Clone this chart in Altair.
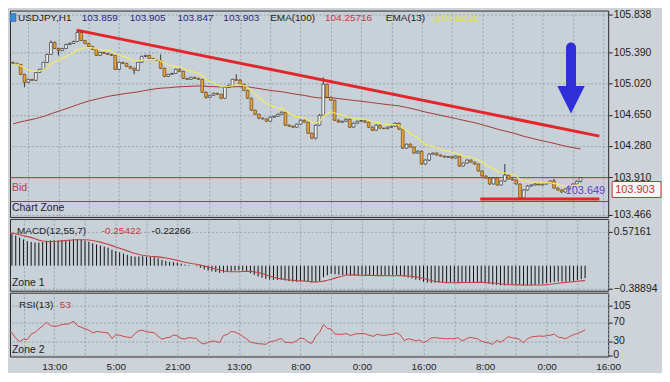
import altair as alt
import pandas as pd

# ---------------- data ----------------
first_open = 105.272
closes = [
    105.260, 105.248, 105.130, 105.035, 105.070, 105.059, 105.153, 105.189, 105.272, 105.366,
    105.508, 105.437, 105.414, 105.437, 105.485, 105.497, 105.520, 105.627, 105.532, 105.497,
    105.461, 105.426, 105.355, 105.390, 105.378, 105.366, 105.355, 105.189, 105.272, 105.260,
    105.224, 105.201, 105.177, 105.272, 105.343, 105.355, 105.319, 105.307, 105.295, 105.201,
    105.106, 105.130, 105.141, 105.189, 105.165, 105.082, 105.070, 105.094, 105.082, 105.070,
    104.917, 104.857, 104.881, 104.905, 104.893, 104.846, 104.976, 104.999, 105.070, 105.059,
    105.011, 104.940, 104.846, 104.704, 104.656, 104.609, 104.600, 104.573, 104.621, 104.633,
    104.656, 104.680, 104.526, 104.514, 104.502, 104.538, 104.585, 104.562, 104.431, 104.372,
    104.526, 104.644, 105.011, 104.857, 104.822, 104.585, 104.562, 104.573, 104.597, 104.502,
    104.550, 104.573, 104.580, 104.562, 104.502, 104.467, 104.526, 104.491, 104.485, 104.502,
    104.514, 104.550, 104.479, 104.254, 104.301, 104.266, 104.195, 104.218, 104.065, 104.112,
    104.183, 104.195, 104.171, 104.159, 104.147, 104.152, 104.136, 104.159, 104.041, 104.076,
    104.112, 104.088, 104.065, 103.982, 103.923, 103.899, 103.828, 103.899, 103.816, 103.863,
    103.934, 103.887, 103.875, 103.828, 103.662, 103.757, 103.804, 103.816, 103.828, 103.816,
    103.828, 103.840, 103.863, 103.780, 103.757, 103.733, 103.769, 103.804, 103.828, 103.859,
    103.903,
]
# wick lengths beyond the body, in thousandths of a yen
wick_up = [
    8, 6, 5, 6, 7, 5, 6, 5, 6, 10,
    24, 12, 8, 6, 7, 10, 8, 23, 6, 5,
    6, 5, 8, 7, 6, 5, 7, 5, 10, 6,
    5, 6, 10, 6, 8, 7, 6, 5, 6, 71,
    8, 6, 5, 8, 10, 6, 5, 7, 6, 5,
    5, 8, 6, 7, 5, 6, 10, 8, 7, 60,
    15, 6, 5, 8, 6, 5, 7, 6, 8, 6,
    7, 8, 5, 6, 7, 6, 8, 6, 5, 8,
    10, 12, 83, 8, 6, 7, 8, 6, 7, 6,
    7, 6, 8, 5, 6, 7, 10, 6, 5, 7,
    6, 8, 5, 5, 6, 8, 5, 7, 6, 8,
    10, 6, 5, 7, 6, 5, 7, 8, 5, 6,
    8, 6, 5, 6, 7, 5, 6, 10, 6, 8,
    131, 8, 6, 5, 6, 8, 10, 6, 7, 5,
    6, 7, 8, 24, 6, 5, 7, 8, 6, 10,
    2,
]
wick_dn = [
    6, 8, 7, 59, 6, 8, 7, 5, 6, 5,
    6, 7, 60, 8, 6, 5, 7, 6, 8, 6,
    5, 7, 6, 8, 5, 6, 7, 8, 10, 6,
    7, 6, 47, 5, 6, 7, 5, 8, 6, 7,
    10, 8, 6, 5, 7, 8, 6, 5, 7, 6,
    10, 15, 8, 6, 7, 12, 6, 8, 5, 7,
    6, 8, 7, 10, 8, 12, 6, 8, 7, 6,
    5, 6, 8, 7, 6, 5, 7, 6, 8, 12,
    15, 8, 6, 7, 8, 10, 6, 7, 8, 6,
    5, 7, 6, 8, 7, 10, 6, 7, 5, 6,
    7, 6, 8, 10, 6, 7, 8, 6, 10, 8,
    12, 6, 7, 5, 6, 7, 6, 5, 10, 6,
    7, 6, 8, 7, 6, 8, 10, 6, 7, 6,
    8, 6, 7, 8, 23, 10, 7, 6, 5, 6,
    7, 6, 5, 8, 7, 10, 6, 7, 5, 6,
    12,
]

price_ticks = [105.838, 105.390, 105.020, 104.650, 104.280, 103.910, 103.466]
macd_ticks = [0.57161, -0.38894]
rsi_ticks = [105, 70, 30, 0]
time_tick_index = [12, 28, 44, 60, 76, 92, 108, 124, 140, 156]
time_tick_labels = ["13:00", "5:00", "21:00", "13:00", "8:00", "0:00", "16:00", "8:00", "0:00", "16:00"]
grid_index = list(range(4, 157, 8))

trend_i = [16.8, 155]
trend_p = [105.655, 104.396]
support_i = [123.5, 155]
support_p = [103.649, 103.649]
bid_price = 103.903
zone_price = 103.62
arrow_i = 147.5
arrow_shaft_p = [105.449, 104.976]
arrow_head_p = 104.828

# indicator seeds (values of the indicators at the first visible bar)
ema100_seed = 104.54
ema13_seed = 105.25
ema12_seed = 105.22
ema55_seed = 104.66
rsi_seed = 0.015

# ---------------- derived series ----------------
n = len(closes)
opens = [first_open] + closes[:-1]
highs = [max(o, c) + u / 1000 for o, c, u in zip(opens, closes, wick_up)]
lows = [min(o, c) - d / 1000 for o, c, d in zip(opens, closes, wick_dn)]


def ema(vals, period, seed):
    a = 2.0 / (period + 1)
    out = [seed]
    for v in vals[1:]:
        out.append(out[-1] + a * (v - out[-1]))
    return out


def rsi(vals, period, seed):
    ag = al = seed
    out = [100 * ag / (ag + al)]
    for k in range(1, len(vals)):
        d = vals[k] - vals[k - 1]
        ag = (ag * (period - 1) + max(d, 0)) / period
        al = (al * (period - 1) + max(-d, 0)) / period
        out.append(100 * ag / (ag + al))
    return out


ema100 = ema(closes, 100, ema100_seed)
ema13 = ema(closes, 13, ema13_seed)
macd = [a - b for a, b in zip(ema(closes, 12, ema12_seed), ema(closes, 55, ema55_seed))]
signal = list(pd.Series(macd).rolling(7, min_periods=1).mean())
rsi13 = rsi(closes, 13, rsi_seed)

df = pd.DataFrame({
    "i": list(range(n)), "o": opens, "c": closes, "h": highs, "l": lows,
    "ema100": ema100, "ema13": ema13, "macd": macd, "signal": signal,
    "rsi": rsi13, "zero": [0.0] * n,
})
trend_df = pd.DataFrame({"i": trend_i, "p": trend_p})
support_df = pd.DataFrame({"i": support_i, "p": support_p})
shaft_df = pd.DataFrame({"i": [arrow_i], "p1": [arrow_shaft_p[0]], "p2": [arrow_shaft_p[1]]})
head_df = pd.DataFrame({"i": [arrow_i], "p": [arrow_head_p]})
rsi_tick_df = pd.DataFrame({"v": rsi_ticks, "t": [str(v) for v in rsi_ticks]})
one = pd.DataFrame({"k": [0]})

# ---------------- styling ----------------
FONT = "Liberation Sans"
BG = "#cdd3d9"
PANEL = "#c8d0d8"
GRID = "#8f99a5"
DARK = "#1e1e1e"
W = 600
H_MAIN, H_MACD, H_RSI = 207, 72, 64

XS = alt.Scale(domain=[0.5, 156], nice=False, zero=False)
YP = alt.Scale(domain=[103.437, 105.887], nice=False, zero=False)
YM = alt.Scale(domain=[-0.4227, 0.7908], nice=False, zero=False)
YR = alt.Scale(domain=[-2.1, 132.3], nice=False, zero=False)

grid_x = alt.Axis(values=grid_index, grid=True, labels=False, ticks=False, domain=False,
                  title=None, gridDash=[2, 2], gridColor=GRID, gridOpacity=0.8)
label_expr = ("(datum.value - 12) % 16 == 0 ? " + str(time_tick_labels) +
              "[(datum.value - 12) / 16] : ''")
bottom_x = alt.Axis(values=grid_index, grid=True, ticks=False, domain=False, title=None,
                    gridDash=[2, 2], gridColor=GRID, gridOpacity=0.8, labelExpr=label_expr,
                    labelFont=FONT, labelFontSize=10, labelColor=DARK, labelPadding=5,
                    labelFlush=False, labelOverlap=False)


def yaxis(values, fmt, labels=True):
    return alt.Axis(orient="right", values=values, format=fmt, grid=True, gridDash=[2, 2],
                    gridColor=GRID, gridOpacity=0.8, tickSize=4, tickColor=DARK,
                    labels=labels, labelPadding=1, labelFont=FONT, labelFontSize=10.5,
                    labelColor=DARK, labelOverlap=False, labelFlush=False, labelBound=False,
                    domain=False, title=None)


YAX_MAIN = yaxis(price_ticks, ".3f")
YAX_MACD = yaxis(macd_ticks, ".5f")
YAX_RSI = yaxis(rsi_ticks, ".0f", labels=False)


def label(text, x, y, color=DARK, size=10, align="left"):
    return alt.Chart(one).mark_text(text=text, align=align, baseline="middle", font=FONT,
                                    fontSize=size, color=color).encode(
        x=alt.value(x), y=alt.value(y))


def X(field="i:Q", axis=grid_x):
    return alt.X(field, scale=XS, axis=axis)


def YPm(field):
    return alt.Y(field, scale=YP, axis=YAX_MAIN)


# ---------------- main price panel ----------------
base = alt.Chart(df)

ema100_line = base.mark_line(color="#a43838", strokeWidth=1, clip=True).encode(
    x=X(), y=YPm("ema100:Q"))
bid_line = alt.Chart(one).mark_rule(color="#b03434", strokeWidth=1).encode(
    y=alt.datum(bid_price, scale=YP, axis=YAX_MAIN))
zone_line = alt.Chart(one).mark_rule(color="#6f3fc0", strokeWidth=1.2).encode(
    y=alt.datum(zone_price, scale=YP, axis=YAX_MAIN))
wicks = base.mark_rule(color="#2a2a2a", strokeWidth=0.9, clip=True).encode(
    x=X(), y=YPm("l:Q"), y2="h:Q")
bull = alt.datum.c >= alt.datum.o
bodies = base.mark_bar(size=2.8, strokeWidth=0.6, clip=True).encode(
    x=X(), y=YPm("o:Q"), y2="c:Q",
    color=alt.condition(bull, alt.value("#eef0f2"), alt.value("#e6a13a")),
    stroke=alt.condition(bull, alt.value("#1e1e1e"), alt.value("#5e3a0c")))
ema13_line = base.mark_line(color="#f2f05a", strokeWidth=1.1, clip=True).encode(
    x=X(), y=YPm("ema13:Q"))
trend = alt.Chart(trend_df).mark_line(color="#e3262a", strokeWidth=3).encode(
    x=X(), y=YPm("p:Q"))
support = alt.Chart(support_df).mark_line(color="#e3262a", strokeWidth=3).encode(
    x=X(), y=YPm("p:Q"))
shaft = alt.Chart(shaft_df).mark_rule(color="#2f2fd9", strokeWidth=10, strokeCap="round").encode(
    x=X(), y=YPm("p1:Q"), y2="p2:Q")
head = alt.Chart(head_df).mark_point(shape="M-1,-1L1,-1L0,1Z", size=760, filled=True,
                                     color="#2f2fd9", opacity=1).encode(
    x=X(), y=YPm("p:Q"))

price_box = alt.Chart(one).mark_rect(fill="#f7f7f7", stroke="#c23434", strokeWidth=1).encode(
    x=alt.value(604), x2=alt.value(653), y=alt.value(171.5), y2=alt.value(187.5))

icon = alt.Chart(one).mark_rect(fill="#3a8ad8", stroke="#205a9a", strokeWidth=0.5).encode(
    x=alt.value(0), x2=alt.value(6), y=alt.value(3), y2=alt.value(11))

main_texts = [
    label("USDJPY,H1", 8, 7),
    label("103.859", 72, 7, "#242a8a"),
    label("103.905", 120, 7, "#242a8a"),
    label("103.847", 168, 7, "#242a8a"),
    label("103.903", 214, 7, "#242a8a"),
    label("EMA(100)", 261, 7),
    label("104.25716", 316, 7, "#c43c3c"),
    label("EMA(13)", 377, 7),
    label("103.8251", 427, 7, "#e4e23a"),
    label("Bid", 2, 178, "#b84040", 10.5),
    label("Chart Zone", 2, 198, DARK, 10.5),
    label("103.649", 597, 181, "#6a40c8", 11, "right"),
    label("103.903", 607, 180, "#c23434", 11),
]

main = alt.layer(
    ema100_line, bid_line, zone_line, wicks, bodies, ema13_line, trend, support,
    shaft, head, price_box, icon, *main_texts,
).properties(width=W, height=H_MAIN)

# ---------------- MACD panel ----------------
hist = base.mark_rule(color="#111111", strokeWidth=1, clip=True).encode(
    x=X(), y=alt.Y("zero:Q", scale=YM, axis=YAX_MACD), y2="macd:Q")
sig = base.mark_line(color="#c04444", strokeWidth=1.1, clip=True).encode(
    x=X(), y=alt.Y("signal:Q", scale=YM, axis=YAX_MACD))
macd_panel = alt.layer(
    hist, sig,
    label("MACD(12,55,7)", 7, 12),
    label("-0.25422", 92, 12, "#c43c3c"),
    label("-0.22266", 142, 12),
    label("Zone 1", 2, 64, DARK, 10.5),
).properties(width=W, height=H_MACD)

# ---------------- RSI panel ----------------
rsi_line = base.mark_line(color="#c84a4a", strokeWidth=1, clip=True).encode(
    x=X(axis=bottom_x), y=alt.Y("rsi:Q", scale=YR, axis=YAX_RSI))
rsi_labels = alt.Chart(rsi_tick_df).mark_text(
    align="left", baseline="middle", font=FONT, fontSize=10.5, color=DARK).encode(
    x=alt.value(605), y=alt.Y("v:Q", scale=YR, axis=YAX_RSI), text="t:N")
rsi_panel = alt.layer(
    rsi_line, rsi_labels,
    label("RSI(13)", 9, 12),
    label("53", 50, 12, "#c43c3c"),
    label("Zone 2", 2, 57, DARK, 10.5),
).properties(width=W, height=H_RSI)

chart = alt.vconcat(main, macd_panel, rsi_panel, spacing=2, bounds="flush").properties(
    padding={"left": 0, "top": 0, "right": 0, "bottom": 0}, background=BG
).configure_view(stroke="#2a2a2a", strokeWidth=1, fill=PANEL)

chart.save("out.html", embed_options={"renderer": "svg", "actions": False})
